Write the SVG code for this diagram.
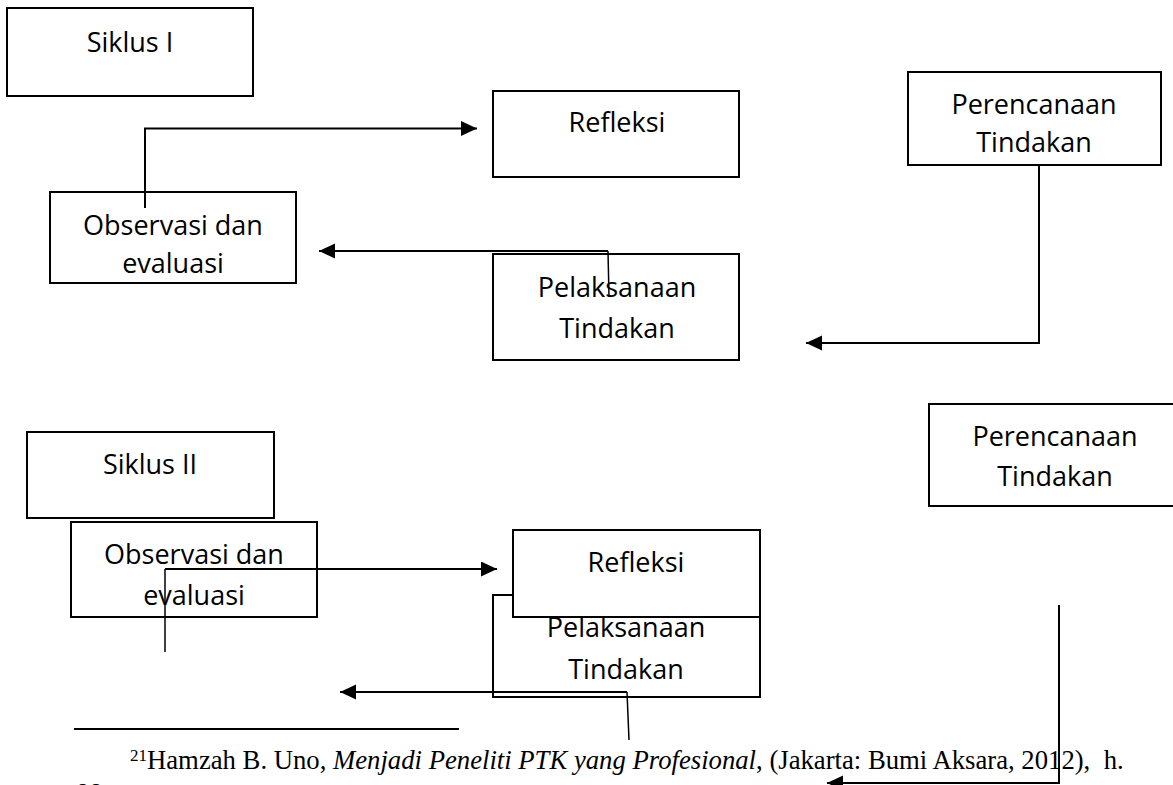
<svg xmlns="http://www.w3.org/2000/svg" width="1173" height="785" viewBox="0 0 1173 785">
<style>
.box{fill:#fff;stroke:#000;stroke-width:2}
.lbl{font-family:"Open Sans","Liberation Sans",sans-serif;font-size:27px;fill:#000;text-anchor:middle}
.ln{fill:none;stroke:#000;stroke-width:2}
.thin{fill:none;stroke:#000;stroke-width:1.5}
.fn{font-family:"Liberation Serif","Times New Roman",serif;font-size:26.7px;fill:#000}
</style>
<defs>
<marker id="ah" markerUnits="userSpaceOnUse" markerWidth="17" markerHeight="16" refX="16" refY="7.5" orient="auto">
<path d="M0,0 L16,7.5 L0,15 z" fill="#000"/>
</marker>
</defs>
<rect width="1173" height="785" fill="#fff"/>
<g id="siklus1"><rect class="box" x="7" y="8" width="246" height="88"/><text class="lbl" x="130" y="52">Siklus I</text></g>
<g id="refleksi1"><rect class="box" x="493" y="91" width="246" height="86"/><text class="lbl" x="617" y="132">Refleksi</text></g>
<g id="observasi1"><rect class="box" x="50" y="192" width="246" height="91"/><text class="lbl" x="173" y="235">Observasi dan</text><text class="lbl" x="173" y="273">evaluasi</text></g>
<g id="pelaksanaan1"><rect class="box" x="493" y="254" width="246" height="106"/><text class="lbl" x="617" y="297">Pelaksanaan</text><text class="lbl" x="617" y="338">Tindakan</text></g>
<g id="perencanaan1"><rect class="box" x="908" y="72" width="253" height="93"/><text class="lbl" x="1034" y="114">Perencanaan</text><text class="lbl" x="1034" y="152">Tindakan</text></g>
<g id="siklus2"><rect class="box" x="27" y="432" width="247" height="86"/><text class="lbl" x="150" y="474">Siklus II</text></g>
<g id="observasi2"><rect class="box" x="71" y="522" width="246" height="95"/><text class="lbl" x="194" y="564">Observasi dan</text><text class="lbl" x="194" y="605">evaluasi</text></g>
<g id="pelaksanaan2"><rect class="box" x="493" y="595" width="267" height="102"/><text class="lbl" x="626" y="637">Pelaksanaan</text><text class="lbl" x="626" y="679">Tindakan</text></g>
<g id="refleksi2"><rect class="box" x="513" y="530" width="247" height="87"/><text class="lbl" x="636" y="572">Refleksi</text></g>
<g id="perencanaan2"><rect class="box" x="929" y="404" width="253" height="102"/><text class="lbl" x="1055" y="446">Perencanaan</text><text class="lbl" x="1055" y="486">Tindakan</text></g>
<g id="connectors">
<polyline class="ln" points="145,208 145,128.5 477,128.5" marker-end="url(#ah)"/>
<polyline class="thin" points="609,297 608,251"/>
<polyline class="ln" points="608,251 319,251" marker-end="url(#ah)"/>
<polyline class="ln" points="1039,165 1039,343 806,343" marker-end="url(#ah)"/>
<polyline class="thin" points="165,652 165,569"/>
<polyline class="ln" points="165,569 497,569" marker-end="url(#ah)"/>
<polyline class="thin" points="629,740 627,692"/>
<polyline class="ln" points="627,692 340,692" marker-end="url(#ah)"/>
<polyline class="ln" points="1059,605 1059,783 827,783" marker-end="url(#ah)"/>
</g>
<g id="footnote">
<line x1="74" y1="729" x2="459" y2="729" stroke="#000" stroke-width="2"/>
<text class="fn" x="130" y="769" xml:space="preserve"><tspan font-size="17" dy="-8">21</tspan><tspan dy="8">Hamzah B. Uno, </tspan><tspan font-style="italic">Menjadi Peneliti PTK yang Profesional</tspan>, (Jakarta: Bumi Aksara, 2012),  h.</text>
<text class="fn" x="76" y="802">88</text>
</g>
</svg>
